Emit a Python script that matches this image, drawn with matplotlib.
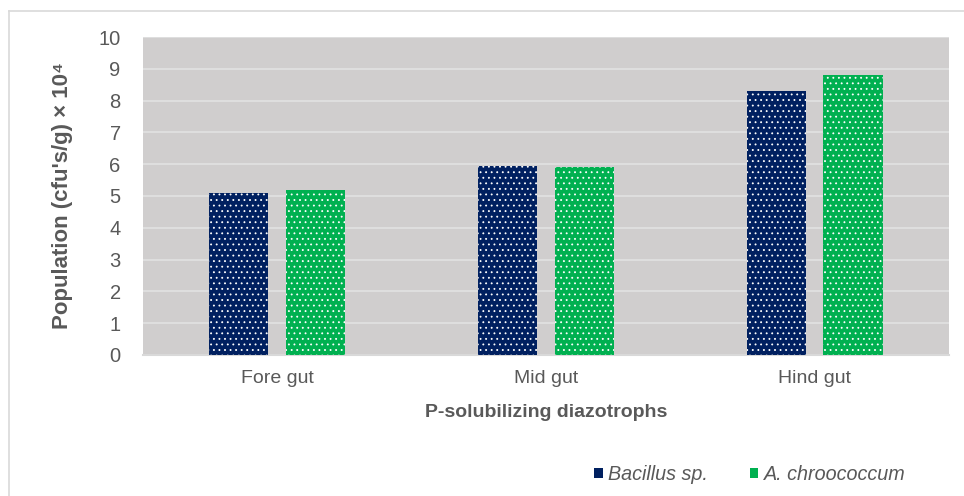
import numpy as np
import matplotlib.pyplot as plt
from matplotlib.patches import Patch
from matplotlib.lines import Line2D

plt.rcParams['font.family'] = ['Liberation Sans', 'DejaVu Sans']
plt.rcParams['hatch.color'] = 'white'
plt.rcParams['hatch.linewidth'] = 0.6

regions = ["Fore gut", "Mid gut", "Hind gut"]
bacillus = [5.1, 5.95, 8.3]
azotobacter = [5.2, 5.9, 8.8]
series_names = ["Bacillus sp.", "A. chroococcum"]

blue = "#002060"
green = "#00B050"
text_col = "#595959"

fig = plt.figure(figsize=(9.64, 4.96), dpi=100)
ax = fig.add_axes([0.1483, 0.2843, 0.8361, 0.6411])
ax.set_facecolor("#D0CECE")

x = np.arange(len(regions))
w = 0.22
ax.bar(x - 0.143, bacillus, w, color=blue, hatch="...", linewidth=0, zorder=3)
ax.bar(x + 0.143, azotobacter, w, color=green, hatch="...", linewidth=0, zorder=3)

ax.set_xlim(-0.5, 2.5)
ax.set_ylim(0, 10)
ax.set_yticks(range(0, 11))
ax.set_xticks(x)
ax.set_xticklabels(regions, fontsize=14)
ax.yaxis.grid(True, color="#E2E2E2", linewidth=1.2, zorder=0)
ax.set_axisbelow(True)
for s in ["top", "right", "left"]:
    ax.spines[s].set_visible(False)
ax.spines["bottom"].set_color("#D9D9D9")
ax.spines["bottom"].set_linewidth(1.5)
ax.tick_params(length=0, colors=text_col)
ax.tick_params(axis="y", pad=16, labelsize=14.5)
ax.tick_params(axis="x", pad=11)

ax.set_ylabel("Population (cfu's/g) × 10⁴", fontsize=16, fontweight="bold",
              color=text_col, labelpad=18)
ax.set_xlabel("P-solubilizing diazotrophs", fontsize=14, fontweight="bold",
              color=text_col, labelpad=12)

handles = [Patch(facecolor=blue, linewidth=0),
           Patch(facecolor=green, linewidth=0)]
leg = fig.legend(handles, series_names, loc="center", bbox_to_anchor=(0.778, 0.044),
                 ncol=2, frameon=False, handlelength=0.42, handleheight=0.42,
                 handletextpad=0.3, columnspacing=2.1,
                 prop={"size": 14.2, "style": "italic"})
for t in leg.get_texts():
    t.set_color(text_col)

# outer chart frame (top and left edges)
fig.add_artist(Line2D([0.0093, 1.0], [0.978, 0.978], color="#D9D9D9", lw=1.2))
fig.add_artist(Line2D([0.0093, 0.0093], [0.0, 0.978], color="#D9D9D9", lw=1.2))

fig.savefig("out.png", dpi=100)
